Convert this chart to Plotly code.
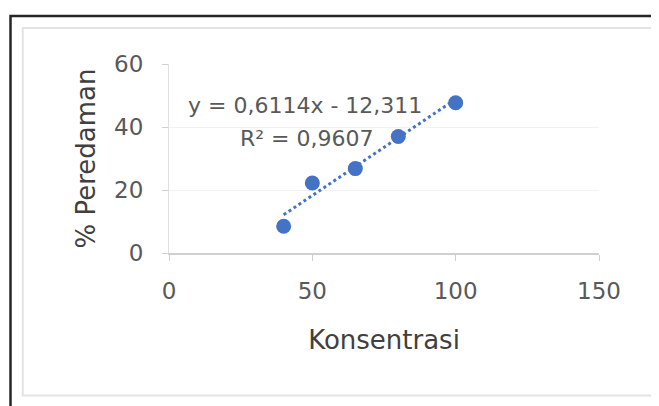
import numpy as np
import plotly.graph_objects as go

# Data
konsentrasi = [40, 50, 65, 80, 100]
peredaman = [8.5, 22.2, 26.8, 37.0, 47.7]
slope = 0.6114
intercept = -12.311
r_squared = 0.9607
x_ticks = [0, 50, 100, 150]
y_ticks = [0, 20, 40, 60]

blue = "#4472C4"
gray_text = "#595959"
FONT = "DejaVu Sans"

trend_x = np.array([min(konsentrasi), max(konsentrasi)])
trend_y = slope * trend_x + intercept

fig = go.Figure()
fig.add_trace(go.Scatter(
    x=trend_x, y=trend_y, mode="lines",
    line=dict(color=blue, width=3, dash="dot"),
    hoverinfo="skip", showlegend=False))
fig.add_trace(go.Scatter(
    x=konsentrasi, y=peredaman, mode="markers",
    marker=dict(color=blue, size=15),
    showlegend=False))

eq_text = "y = {}x - {}".format(str(slope).replace(".", ","), str(abs(intercept)).replace(".", ","))
r2_text = "R² = {}".format(str(r_squared).replace(".", ","))

fig.add_annotation(x=47.6, y=46.7, xref="x", yref="y", text=eq_text, showarrow=False,
                   font=dict(family=FONT, size=22, color=gray_text))
fig.add_annotation(x=48.3, y=36.3, xref="x", yref="y", text=r2_text, showarrow=False,
                   font=dict(family=FONT, size=22, color=gray_text))

# Borders (paper coords relative to plot area)
fig.add_shape(type="rect", xref="paper", yref="paper",
              x0=-0.3686, x1=1.25, y0=-0.95, y1=1.254,
              line=dict(color="#262626", width=2.5), layer="below")
fig.add_shape(type="rect", xref="paper", yref="paper",
              x0=-0.340, x1=1.129, y0=-0.754, y1=1.190,
              line=dict(color="#e4e4e4", width=2), layer="below")

fig.update_xaxes(
    range=[0, 150], tickvals=x_ticks, showgrid=False,
    showline=True, linecolor="#d0d0d0", linewidth=2,
    ticks="outside", ticklen=6, tickcolor="#d0d0d0",
    ticklabelstandoff=10,
    tickfont=dict(family=FONT, size=23, color=gray_text),
    title=dict(text="Konsentrasi", standoff=28,
               font=dict(family=FONT, size=26, color="#404040")),
    zeroline=False, fixedrange=True)
fig.update_yaxes(
    range=[0, 60], tickvals=y_ticks, showgrid=True, gridcolor="#f2f2f2", gridwidth=1,
    showline=True, linecolor="#e0e0e0", linewidth=1,
    ticks="outside", ticklen=6, tickcolor="#d0d0d0",
    ticklabelstandoff=14,
    tickfont=dict(family=FONT, size=23, color=gray_text),
    title=dict(text="% Peredaman", standoff=11,
               font=dict(family=FONT, size=26, color="#404040")),
    zeroline=False, fixedrange=True)

fig.update_layout(
    width=651, height=398, autosize=False,
    margin=dict(l=161, r=60, t=56, b=153),
    plot_bgcolor="white", paper_bgcolor="white",
    showlegend=False)

fig.write_html("out.html")
